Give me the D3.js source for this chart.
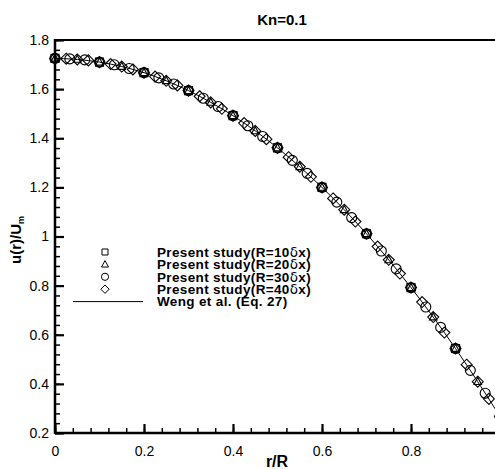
<html>

<head>
    <style>
        body { margin: 0; background: white; }
        text { font-family: Arial, "Liberation Sans", sans-serif; }
    </style>
</head>

<body>
    <svg id="chart"></svg>
</body>
<script src="https://cdn.jsdelivr.net/npm/d3@7"></script>
<script>
    let width = 495,
        height = 469;

    // x and u(r)/Um values, one pair of arrays per series
    let r10 = [0, 0.1, 0.2, 0.3, 0.4, 0.5, 0.6, 0.7, 0.8, 0.9, 1.0]
    let u10 = [1.725, 1.710, 1.667, 1.594, 1.492, 1.361, 1.200, 1.011, 0.792, 0.544, 0.267]

    let r20 = [0, 0.05, 0.1, 0.15, 0.2, 0.25, 0.3, 0.35, 0.4, 0.45, 0.5, 0.55, 0.6, 0.65, 0.7, 0.75, 0.8, 0.85, 0.9, 0.95, 1.0]
    let u20 = [1.725, 1.721, 1.710, 1.692, 1.667, 1.634, 1.594, 1.546, 1.492, 1.430, 1.361, 1.284, 1.200, 1.109, 1.011, 0.905, 0.792, 0.672, 0.544, 0.409, 0.267]

    let r30 = [0, 0.0333, 0.0667, 0.1, 0.1333, 0.1667, 0.2, 0.2333, 0.2667, 0.3, 0.3333, 0.3667, 0.4, 0.4333, 0.4667, 0.5,
        0.5333, 0.5667, 0.6, 0.6333, 0.6667, 0.7, 0.7333, 0.7667, 0.8, 0.8333, 0.8667, 0.9, 0.9333, 0.9667, 1.0]
    let u30 = [1.725, 1.723, 1.719, 1.710, 1.699, 1.684, 1.667, 1.646, 1.621, 1.594, 1.563, 1.529, 1.492, 1.451, 1.407, 1.361,
        1.310, 1.257, 1.200, 1.140, 1.077, 1.011, 0.941, 0.868, 0.792, 0.713, 0.630, 0.544, 0.455, 0.362, 0.267]

    let r40 = [0, 0.025, 0.05, 0.075, 0.1, 0.125, 0.15, 0.175, 0.2, 0.225, 0.25, 0.275, 0.3, 0.325, 0.35, 0.375, 0.4, 0.425, 0.45, 0.475, 0.5,
        0.525, 0.55, 0.575, 0.6, 0.625, 0.65, 0.675, 0.7, 0.725, 0.75, 0.775, 0.8, 0.825, 0.85, 0.875, 0.9, 0.925, 0.95, 0.975, 1.0]
    let u40 = [1.725, 1.724, 1.721, 1.717, 1.710, 1.702, 1.692, 1.680, 1.667, 1.651, 1.634, 1.615, 1.594, 1.571, 1.546, 1.520, 1.492, 1.462, 1.430, 1.396, 1.361,
        1.323, 1.284, 1.243, 1.200, 1.155, 1.109, 1.061, 1.011, 0.959, 0.905, 0.849, 0.792, 0.733, 0.672, 0.609, 0.544, 0.478, 0.409, 0.339, 0.267]

    // analytical curve (Weng et al.), read at 0.05 steps
    let rLine = [0, 0.05, 0.1, 0.15, 0.2, 0.25, 0.3, 0.35, 0.4, 0.45, 0.5, 0.55, 0.6, 0.65, 0.7, 0.75, 0.8, 0.85, 0.9, 0.95, 1.0]
    let uLine = [1.725, 1.721, 1.710, 1.692, 1.667, 1.634, 1.594, 1.546, 1.492, 1.430, 1.361, 1.284, 1.200, 1.109, 1.011, 0.905, 0.792, 0.672, 0.544, 0.409, 0.267]

    let xTicks = [0, 0.2, 0.4, 0.6, 0.8]
    let yTicks = [0.2, 0.4, 0.6, 0.8, 1, 1.2, 1.4, 1.6, 1.8]
    let legendLabels = ["10", "20", "30", "40"]

    let margin = { left: 55, top: 40, right: 500, bottom: 433 }
    let svg = d3.select("#chart").attr("width", width).attr("height", height)

    let x = d3.scaleLinear().domain([0, 1]).range([margin.left, margin.right])
    let y = d3.scaleLinear().domain([0.2, 1.8]).range([margin.bottom, margin.top])

    // marker shapes, s = half size
    function shape(kind, s) {
        if (kind == "square") return `M${-s},${-s}H${s}V${s}H${-s}Z`
        if (kind == "triangle") return `M0,${-s * 1.1}L${s},${s * 0.75}H${-s}Z`
        if (kind == "circle") return `M${s},0A${s},${s} 0 1,1 ${-s},0A${s},${s} 0 1,1 ${s},0Z`
        return `M0,${-s}L${s},0L0,${s}L${-s},0Z`
    }

    let series = [
        { r: r10, u: u10, kind: "square", size: 4, leg: 3 },
        { r: r20, u: u20, kind: "triangle", size: 3.8, leg: 3.5 },
        { r: r30, u: u30, kind: "circle", size: 5, leg: 3.6 },
        { r: r40, u: u40, kind: "diamond", size: 5.5, leg: 4.2 }
    ]

    function drawAxes() {
        let xAxis = d3.axisBottom(x).tickValues(xTicks).tickFormat(d3.format("")).tickSize(-9).tickPadding(13)
        let gx = svg.append("g").attr("class", "major").attr("transform", `translate(0,${margin.bottom})`).call(xAxis)
        gx.selectAll("text").attr("font-size", 14).attr("font-family", "Arial, 'Liberation Sans', sans-serif")
        let xMinor = d3.axisBottom(x).tickValues(d3.range(0, 1.001, 0.04)).tickFormat("").tickSize(-5)
        svg.append("g").attr("transform", `translate(0,${margin.bottom})`).call(xMinor)

        let yAxis = d3.axisLeft(y).tickValues(yTicks).tickFormat(d3.format("")).tickSize(-9).tickPadding(6)
        let gy = svg.append("g").attr("class", "major").attr("transform", `translate(${margin.left},0)`).call(yAxis)
        gy.selectAll("text").attr("font-size", 14).attr("font-family", "Arial, 'Liberation Sans', sans-serif")
        let yMinor = d3.axisLeft(y).tickValues(d3.range(0.2, 1.801, 0.04)).tickFormat("").tickSize(-5)
        svg.append("g").attr("transform", `translate(${margin.left},0)`).call(yMinor)

        svg.selectAll(".domain").remove()
        svg.selectAll(".tick line").attr("stroke", "black").attr("stroke-width", 1.5)
        svg.selectAll(".major .tick line").attr("stroke-width", 2.2)

        // frame
        svg.append("line").attr("x1", margin.left).attr("x2", margin.right + 5)
            .attr("y1", margin.bottom).attr("y2", margin.bottom).attr("stroke", "black").attr("stroke-width", 2.5)
        svg.append("line").attr("x1", margin.left).attr("x2", margin.left)
            .attr("y1", margin.top - 1).attr("y2", margin.bottom + 1).attr("stroke", "black").attr("stroke-width", 2.5)
        svg.append("line").attr("x1", margin.left).attr("x2", margin.right + 5)
            .attr("y1", margin.top).attr("y2", margin.top).attr("stroke", "black").attr("stroke-width", 2)
    }

    function drawData() {
        svg.append("clipPath").attr("id", "plot").append("rect")
            .attr("x", margin.left - 6).attr("y", margin.top - 6)
            .attr("width", margin.right - margin.left + 6).attr("height", margin.bottom - margin.top + 6)
        let g = svg.append("g").attr("clip-path", "url(#plot)")

        let line = d3.line().x((d, i) => x(rLine[i])).y(d => y(d)).curve(d3.curveCatmullRom)
        g.append("path").attr("d", line(uLine)).attr("fill", "none").attr("stroke", "black").attr("stroke-width", 1)

        series.forEach(s => {
            g.append("g").selectAll("path")
                .data(s.u)
                .enter()
                .append("path")
                .attr("transform", (d, i) => `translate(${x(s.r[i])},${y(d)})`)
                .attr("d", shape(s.kind, s.size))
                .attr("fill", "none")
                .attr("stroke", "black")
                .attr("stroke-width", 1.1)
        })
    }

    function drawLegend() {
        let lg = svg.append("g")
        series.forEach((s, i) => {
            let yy = 252 + i * 12.4
            lg.append("path").attr("transform", `translate(105,${yy})`).attr("d", shape(s.kind, s.leg))
                .attr("fill", "none").attr("stroke", "black").attr("stroke-width", 1)
            let t = lg.append("text").attr("x", 157).attr("y", yy + 4.7).attr("font-size", 13.5)
                .attr("font-weight", "bold").attr("letter-spacing", 0.35)
            t.append("tspan").text(`Present study(R=${legendLabels[i]}`)
            t.append("tspan").attr("font-weight", "normal").attr("font-family", "'DejaVu Sans', sans-serif").text("δ")
            t.append("tspan").text("x)")
        })
        let yy = 252 + 4 * 12.4
        lg.append("line").attr("x1", 73).attr("x2", 143).attr("y1", yy).attr("y2", yy).attr("stroke", "black").attr("stroke-width", 1)
        lg.append("text").attr("x", 157).attr("y", yy + 4.7).attr("font-size", 13.5).attr("font-weight", "bold")
            .attr("letter-spacing", 0.35).text("Weng et al. (Eq. 27)")
    }

    function drawLabels() {
        svg.append("text").attr("x", 282).attr("y", 25).attr("text-anchor", "middle")
            .attr("font-size", 15).attr("font-weight", "bold").text("Kn=0.1")
        svg.append("text").attr("x", 277).attr("y", 467).attr("text-anchor", "middle")
            .attr("font-size", 16).attr("font-weight", "bold").text("r/R")
        let yl = svg.append("text").attr("transform", "translate(21,240) rotate(-90)").attr("text-anchor", "middle")
            .attr("font-size", 15).attr("font-weight", "bold")
        yl.append("tspan").text("u(r)/U")
        yl.append("tspan").attr("font-size", 9).attr("dy", 3).text("m")
    }

    drawAxes()
    drawData()
    drawLegend()
    drawLabels()
</script>

</html>
